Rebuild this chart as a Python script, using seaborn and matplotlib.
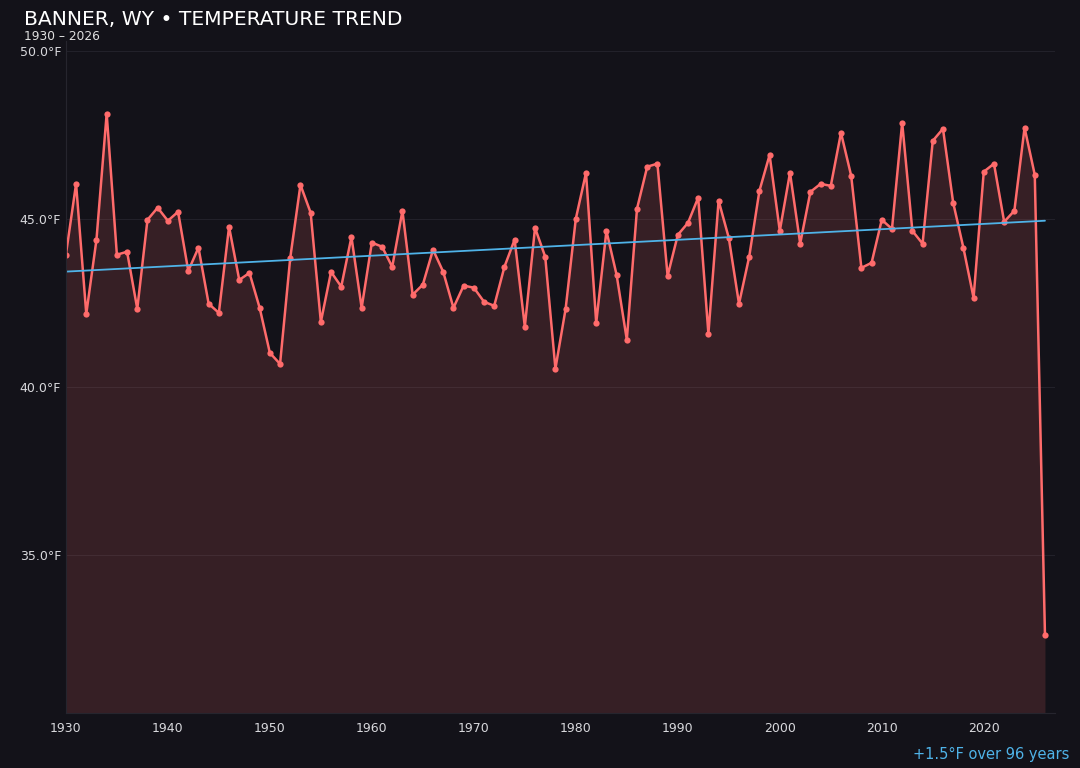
import numpy as np
import pandas as pd
import seaborn as sns
import matplotlib.pyplot as plt

years = list(range(1930, 2027))
temps = [
    43.93, 46.04, 42.17, 44.38, 48.13, 43.93, 44.02, 42.32, 44.97, 45.33,
    44.94, 45.21, 43.45, 44.14, 42.47, 42.20, 44.76, 43.18, 43.39, 42.35,
    41.01, 40.68, 43.84, 46.01, 45.18, 41.93, 43.42, 42.98, 44.46, 42.35,
    44.29, 44.17, 43.57, 45.24, 42.74, 43.04, 44.08, 43.42, 42.35, 43.01,
    42.95, 42.53, 42.41, 43.57, 44.38, 41.79, 44.73, 43.87, 40.54, 42.32,
    45.00, 46.37, 41.90, 44.64, 43.33, 41.40, 45.30, 46.55, 46.64, 43.30,
    44.52, 44.88, 45.63, 41.58, 45.54, 44.43, 42.47, 43.87, 45.83, 46.90,
    44.64, 46.37, 44.26, 45.80, 46.04, 45.98, 47.56, 46.28, 43.54, 43.69,
    44.97, 44.70, 47.86, 44.64, 44.26, 47.32, 47.68, 45.48, 44.14, 42.65,
    46.40, 46.64, 44.91, 45.24, 47.71, 46.31, 32.62,
]
yticks = [35, 40, 45, 50]
xticks = [1930, 1940, 1950, 1960, 1970, 1980, 1990, 2000, 2010, 2020]

bg = "#131219"
red = "#ff6b6b"
blue = "#4fb3e8"

df = pd.DataFrame({"year": years, "temp": temps})
coef = np.polyfit(df["year"], df["temp"], 1)
df["trend"] = np.polyval(coef, df["year"])
change = df["trend"].iloc[-1] - df["trend"].iloc[0]

sns.set_style("dark")
plt.rcParams["font.family"] = ["DejaVu Sans"]

f = plt.figure(figsize=(10.8, 7.68), dpi=100, facecolor=bg)
ax = f.add_axes([0.061, 0.072, 0.916, 0.875])
ax.set_facecolor(bg)

# area under the line
ax.fill_between(df["year"], df["temp"], 30.3, color=red, alpha=0.15, lw=0)
sns.lineplot(x="year", y="temp", data=df, ax=ax, color=red, lw=1.8,
             marker="o", markersize=4.5, markeredgewidth=0)
sns.lineplot(x="year", y="trend", data=df, ax=ax, color=blue, lw=1.3)

ax.set_xlim(1930, 2027)
ax.set_ylim(30.3, 50.3)
ax.set_xticks(xticks)
ax.set_yticks(yticks)
ax.set_yticklabels([f"{t:.1f}°F" for t in yticks])
ax.set_xlabel("")
ax.set_ylabel("")
ax.grid(axis="y", color="#22212a", lw=0.8)
ax.grid(axis="x", visible=False)
ax.tick_params(axis="both", colors="#d8d8dc", labelsize=9)
ax.tick_params(axis="x", length=3, color="#2a2a33")
ax.tick_params(axis="y", length=0)
for s in ["top", "right"]:
    ax.spines[s].set_visible(False)
for s in ["left", "bottom"]:
    ax.spines[s].set_color("#26252e")

f.text(0.022, 0.974, "BANNER, WY • TEMPERATURE TREND", color="white",
       fontsize=14.6, va="center", ha="left")
f.text(0.022, 0.953, "1930 – 2026", color="#e0e0e0", fontsize=8.8,
       va="center", ha="left")
f.text(0.990, 0.017, f"{change:+.1f}°F over 96 years", color=blue,
       fontsize=10.5, va="center", ha="right")

f.savefig("out.png", facecolor=bg)
